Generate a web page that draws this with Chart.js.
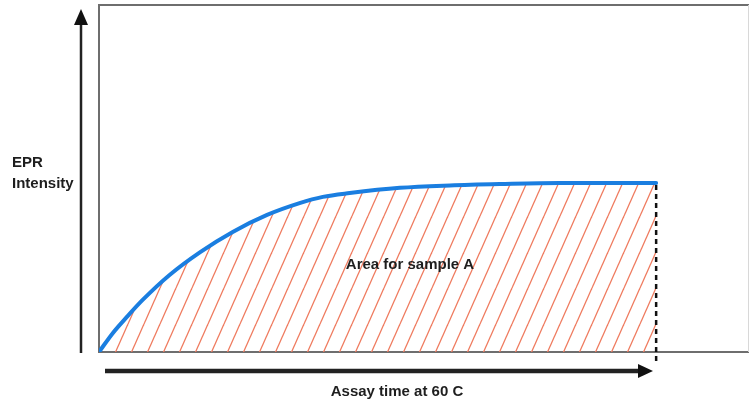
<!DOCTYPE html>
<html><head><meta charset="utf-8">
<script src="https://cdn.jsdelivr.net/npm/chart.js@4"></script>
<style>html,body{margin:0;padding:0;background:#fff}#w{width:749px;height:406px}</style>
</head><body><div id="w"><canvas id="c" width="749" height="406"></canvas></div>
<script>
// Assay time (arbitrary units) and EPR intensity
const times = [0, 1.5, 3.0, 4.7, 7.6, 10.9, 14.4, 18.1, 21.6, 24.1, 27.0, 32.4, 37.8, 43.2, 49.6, 60];
const intensity = [0, 5.5, 10.1, 15.0, 22.2, 28.8, 34.6, 39.5, 42.9, 44.7, 45.8, 47.3, 48.0, 48.4, 48.7, 48.7];
const yLabelLines = ['EPR', 'Intensity'];
const areaLabel = 'Area for sample A';
const xLabel = 'Assay time at 60 C';

function hatch() {
  const w = 16, h = 36;
  const p = document.createElement('canvas');
  p.width = w; p.height = h;
  const g = p.getContext('2d');
  g.strokeStyle = '#ef7a5e';
  g.lineWidth = 1.3;
  for (const ox of [-w, 0, w]) {
    g.beginPath(); g.moveTo(ox, h); g.lineTo(ox + w, 0); g.stroke();
  }
  return g.createPattern(p, 'repeat');
}

const deco = {
  id: 'deco',
  beforeDatasetsDraw(chart) {
    const ctx = chart.ctx, a = chart.chartArea;
    ctx.save();
    ctx.strokeStyle = '#6e6e6e'; ctx.lineWidth = 2;
    ctx.beginPath();
    ctx.moveTo(a.right, a.top); ctx.lineTo(a.left, a.top); ctx.lineTo(a.left, a.bottom); ctx.lineTo(a.right, a.bottom);
    ctx.stroke();
    ctx.strokeStyle = '#d8d8d8'; ctx.lineWidth = 1;
    ctx.beginPath(); ctx.moveTo(a.right - 0.5, a.top); ctx.lineTo(a.right - 0.5, a.bottom); ctx.stroke();
    ctx.restore();
  },
  afterDatasetsDraw(chart) {
    const ctx = chart.ctx, a = chart.chartArea, xs = chart.scales.x, ys = chart.scales.y;
    ctx.save();
    // dashed end line
    const ex = xs.getPixelForValue(times[times.length - 1]);
    const ey = ys.getPixelForValue(intensity[intensity.length - 1]);
    ctx.strokeStyle = '#111'; ctx.lineWidth = 2.5; ctx.setLineDash([5, 4]);
    ctx.beginPath(); ctx.moveTo(ex, ey + 2); ctx.lineTo(ex, a.bottom + 12); ctx.stroke();
    ctx.setLineDash([]);
    // y arrow
    ctx.strokeStyle = '#222'; ctx.fillStyle = '#111'; ctx.lineWidth = 2.5;
    ctx.beginPath(); ctx.moveTo(81, a.bottom + 1); ctx.lineTo(81, 22); ctx.stroke();
    ctx.beginPath(); ctx.moveTo(81, 9); ctx.lineTo(74, 25); ctx.lineTo(88, 25); ctx.closePath(); ctx.fill();
    // x arrow
    ctx.lineWidth = 4.5;
    ctx.beginPath(); ctx.moveTo(105, 371); ctx.lineTo(642, 371); ctx.stroke();
    ctx.beginPath(); ctx.moveTo(653, 371); ctx.lineTo(638, 364); ctx.lineTo(638, 378); ctx.closePath(); ctx.fill();
    // texts
    ctx.fillStyle = '#1e1e1e';
    ctx.font = 'bold 15px "Liberation Sans", Arial, sans-serif';
    ctx.textBaseline = 'middle';
    ctx.textAlign = 'left';
    ctx.fillText(yLabelLines[0], 12, 163);
    ctx.fillText(yLabelLines[1], 12, 184);
    ctx.textAlign = 'center';
    ctx.fillText(areaLabel, 410, 265);
    ctx.fillText(xLabel, 397, 392);
    ctx.restore();
  }
};

new Chart(document.getElementById('c'), {
  type: 'line',
  data: {
    labels: times,
    datasets: [{
      data: times.map((t, i) => ({ x: t, y: intensity[i] })),
      borderColor: '#1a7ee0',
      borderWidth: 4,
      pointRadius: 0,
      cubicInterpolationMode: 'monotone',
      fill: 'origin',
      backgroundColor: hatch(),
      borderCapStyle: 'round'
    }]
  },
  options: {
    responsive: false,
    animation: false,
    layout: { padding: { left: 99, top: 5, right: 0, bottom: 54 } },
    plugins: { legend: { display: false }, tooltip: { enabled: false } },
    scales: {
      x: { type: 'linear', min: 0, max: 70, display: false },
      y: { min: 0, max: 100, display: false }
    }
  },
  plugins: [deco]
});
</script></body></html>
